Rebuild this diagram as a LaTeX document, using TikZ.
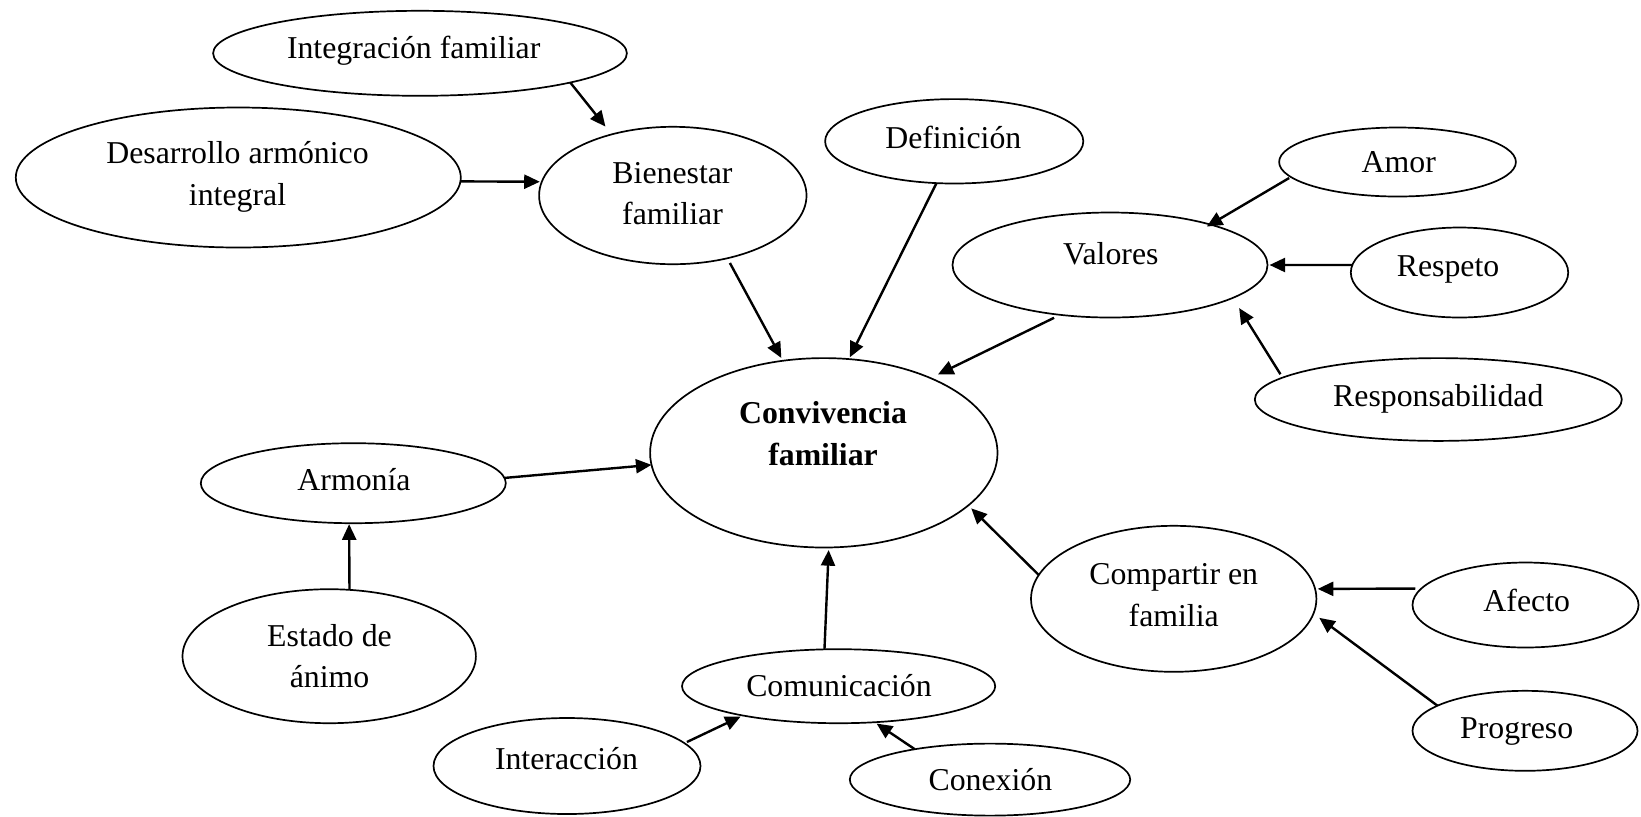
\documentclass[tikz,border=0pt]{standalone}
\usepackage{fontspec}
\setmainfont{Liberation Serif}
\usetikzlibrary{arrows.meta,shapes.geometric}
\tikzset{
  bub/.style={draw, ellipse, line width=0.85pt, inner sep=0pt, outer sep=0pt},
  txt/.style={anchor=base, inner sep=0pt, outer sep=0pt, font=\fontsize{15.9}{20.9}\selectfont},
  arr/.style={line width=1.2pt, -{Triangle[length=7.8pt,width=7pt]}}
}
\newcommand{\twoline}[2]{\begin{tabular}[t]{@{}c@{}}#1\\#2\end{tabular}}
\begin{document}
\begin{tikzpicture}[x=0.5pt,y=-0.5pt]
\useasboundingbox (0,0) rectangle (1641,816);
% ellipses
\node[bub, minimum width=206.9pt, minimum height=42.5pt] (integ) at (420,53.3) {};
\node[bub, minimum width=222.5pt, minimum height=70pt] (desar) at (238.3,177.5) {};
\node[bub, minimum width=133.7pt, minimum height=68.7pt] (bien) at (672.8,195.5) {};
\node[bub, minimum width=129.1pt, minimum height=42.2pt] (defin) at (954.2,141.3) {};
\node[bub, minimum width=118.4pt, minimum height=34.5pt] (amor) at (1397.5,162) {};
\node[bub, minimum width=157.5pt, minimum height=52.5pt] (valor) at (1110,265) {};
\node[bub, minimum width=108.7pt, minimum height=45pt] (resp) at (1459.5,272.5) {};
\node[bub, minimum width=183.5pt, minimum height=41.4pt] (respon) at (1438.3,399.5) {};
\node[bub, minimum width=173.7pt, minimum height=94.7pt] (conv) at (823.8,452.8) {};
\node[bub, minimum width=152.5pt, minimum height=40pt] (armon) at (353.3,483.2) {};
\node[bub, minimum width=146.7pt, minimum height=67pt] (estado) at (329.2,656.2) {};
\node[bub, minimum width=156.6pt, minimum height=37pt] (comun) at (838.6,686.2) {};
\node[bub, minimum width=133.5pt, minimum height=48pt] (inter) at (567,766) {};
\node[bub, minimum width=140.2pt, minimum height=36pt] (conex) at (990,779.6) {};
\node[bub, minimum width=142.7pt, minimum height=73pt] (compar) at (1173.7,598.8) {};
\node[bub, minimum width=113pt, minimum height=42.5pt] (afecto) at (1525.5,605) {};
\node[bub, minimum width=112.5pt, minimum height=40pt] (progreso) at (1525,730.8) {};
% texts
\node[txt] (integT) at (413.7,58.5) {Integración familiar};
\node[txt] (desarT) at (237.5,163.3) {\twoline{Desarrollo armónico}{integral}};
\node[txt] (bienT) at (672.5,183) {\twoline{Bienestar}{familiar}};
\node[txt] (definT) at (953.3,148.3) {Definición};
\node[txt] (amorT) at (1398.8,172.7) {Amor};
\node[txt] (valorT) at (1110.8,264) {Valores};
\node[txt] (respT) at (1448,276.7) {Respeto};
\node[txt] (responT) at (1438.3,406) {Responsabilidad};
\node[txt, font=\fontsize{15.9}{20.9}\selectfont\bfseries] (convT) at (823,423.3) {\twoline{Convivencia}{familiar}};
\node[txt] (armonT) at (354,490) {Armonía};
\node[txt] (estadoT) at (329.5,646) {\twoline{Estado de}{ánimo}};
\node[txt] (comunT) at (839,696.7) {Comunicación};
\node[txt] (interT) at (566.5,769.3) {Interacción};
\node[txt] (conexT) at (990.4,790) {Conexión};
\node[txt] (comparT) at (1173.7,584.3) {\twoline{Compartir en}{familia}};
\node[txt] (afectoT) at (1526.7,611.7) {Afecto};
\node[txt] (progresoT) at (1516.7,738.3) {Progreso};
% arrows
\draw[arr, shorten >=5pt] (integ.-11.1) -- (bien.135.6);
\draw[arr, shorten >=1pt] (desar.-1.1) -- (bien.174.7);
\draw[arr, shorten <=2.7pt, shorten >=1.6pt] (bien.-49.4) -- (conv.114.2);
\draw[arr, shorten >=1pt] (defin.-113.7) -- (conv.75);
\draw[arr, shorten <=3.4pt, shorten >=4.1pt] (valor.-135.9) -- (conv.35.8);
\draw[arr, shorten <=1pt, shorten >=-2pt] (amor.-172.95) -- (valor.22.7);
\draw[arr, shorten >=1pt] (resp.176.1) -- (valor.0);
\draw[arr, shorten <=2pt, shorten >=6pt] (respon.172.1) -- (valor.-15.8);
\draw[arr] (armon.2.4) -- (conv.-176);
\draw[arr, shorten >=0.5pt] (estado.73.8) -- (armon.-96.3);
\draw[arr, shorten >=1.3pt] (comun.111) -- (conv.-87.8);
\draw[arr, shorten <=1.4pt, shorten >=1.2pt] (inter.11) -- (comun.-163.5);
\draw[arr, shorten >=1.2pt] (conex.158.2) -- (comun.-45.4);
\draw[arr, shorten >=2.1pt] (compar.170.8) -- (conv.-20.3);
\draw[arr, shorten <=3pt, shorten >=1.3pt] (afecto.171) -- (compar.4.2);
\draw[arr, shorten >=3.6pt] (progreso.164.5) -- (compar.-6.9);
\end{tikzpicture}
\end{document}
